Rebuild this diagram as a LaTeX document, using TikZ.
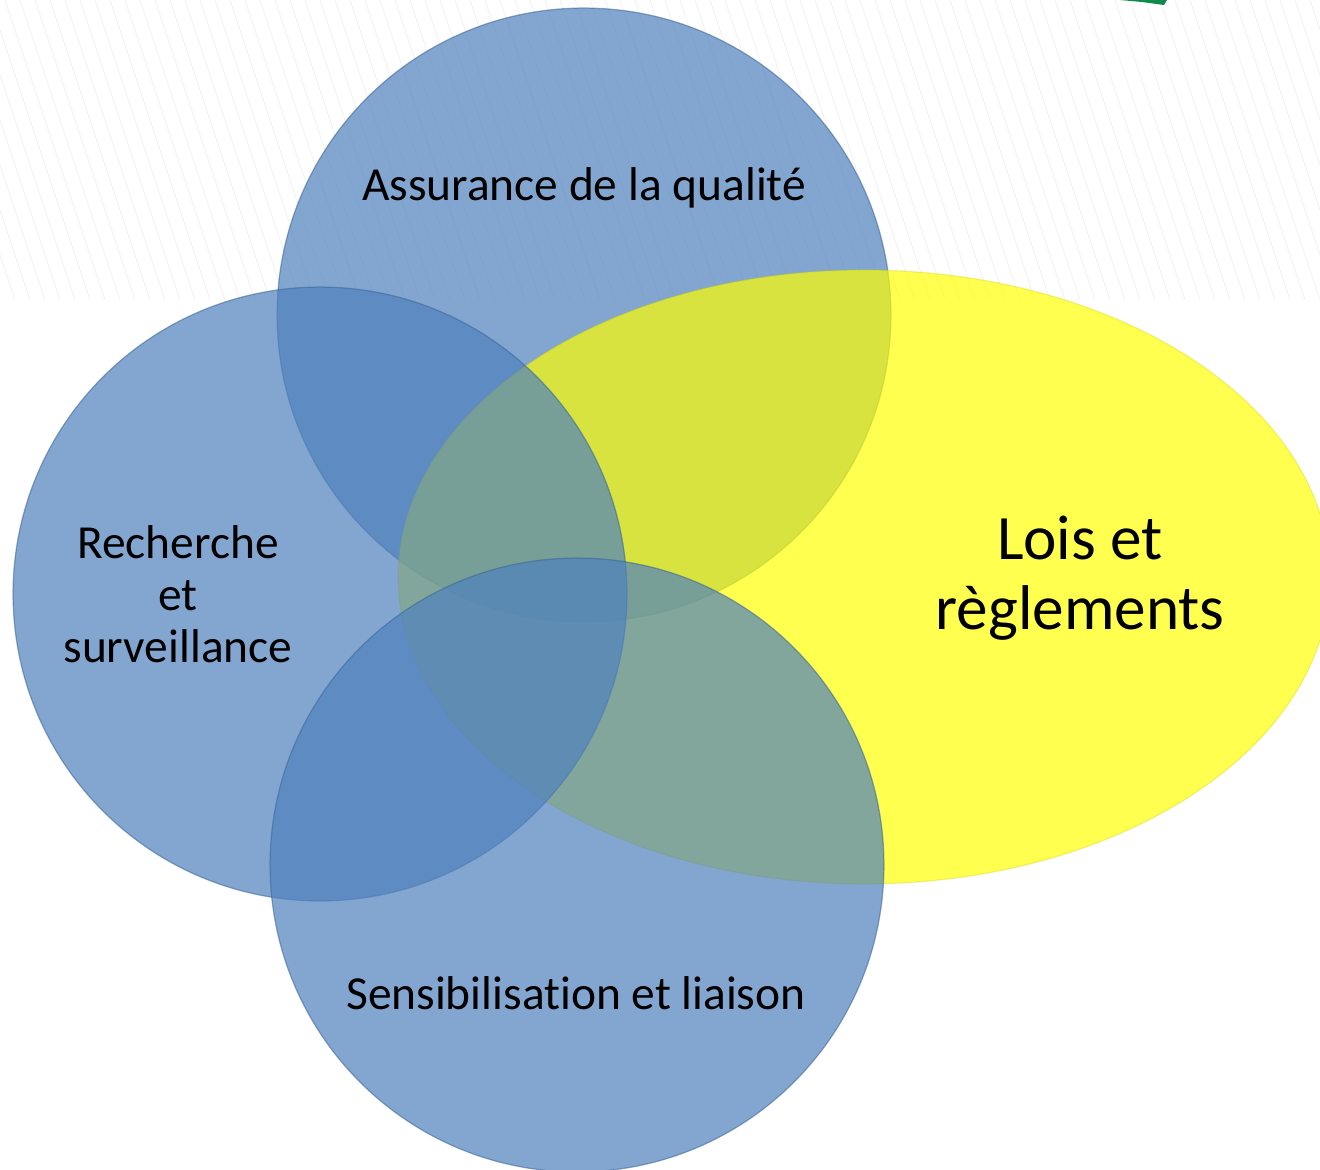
\documentclass[tikz,border=0pt]{standalone}
\usepackage{fontspec}
\setmainfont[Ligatures=NoCommon]{Carlito}
\usepackage{tikz}

\definecolor{discblue}{HTML}{4F81BD}
\definecolor{discedge}{HTML}{3A6598}
\definecolor{lawyellow}{HTML}{FFFF00}
\definecolor{logogreen}{HTML}{0F8A4A}

\begin{document}
\begin{tikzpicture}[x=0.02cm, y=-0.02cm,
        bluedisc/.style = {fill=discblue, fill opacity=0.7, draw=discedge, draw opacity=0.55, line width=0.7pt},
        yellowdisc/.style = {fill=lawyellow, fill opacity=0.69, draw=lawyellow!80!black, draw opacity=0.3, line width=0.7pt},
        label/.style = {font = {\fontsize{27}{29.6}\selectfont}, black, align=center, inner sep=0pt}
    ]
        \useasboundingbox (0, 0) rectangle (1320, 1170);
        \fill[white] (0, 0) rectangle (1320, 1170);

        % faint stripes at the top
        \begin{scope}
            \clip (0, 0) rectangle (1320, 300);
            \foreach \sx in {-100, -85, ..., 1320}
                \draw[black!5, line width=0.5pt] (\sx, 0) -- (\sx + 100, 300);
        \end{scope}
        \fill[logogreen] (1120, 0) -- (1167, 0) -- (1164, 5) -- (1142, 2) -- cycle;

        % circles and ellipse
        \draw[bluedisc] (584, 315) circle[radius=6.14cm];
        \draw[yellowdisc] (864, 577) ellipse[x radius=9.32cm, y radius=6.14cm];
        \draw[bluedisc] (320, 594) circle[radius=6.14cm];
        \draw[bluedisc] (577, 865) circle[radius=6.14cm];

        \node[label] (quality) at (584, 188) {Assurance de la qualité};
        \node[label] (research) at (178, 594) {Recherche\\et\\surveillance};
        \node[label] (outreach) at (576, 993) {Sensibilisation et liaison};
        \node[label, font = {\fontsize{36}{40}\selectfont}] (laws) at (1080, 578) {Lois et\\règlements};
    \end{tikzpicture}
\end{document}
